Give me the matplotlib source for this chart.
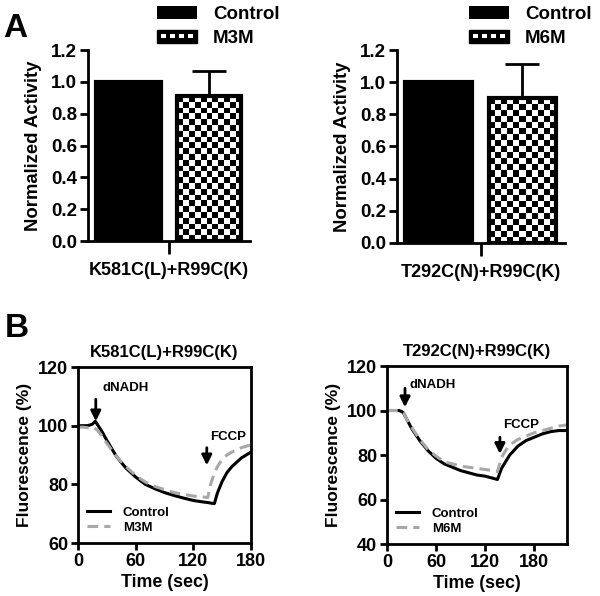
import numpy as np
import matplotlib
matplotlib.use("Agg")
import matplotlib.pyplot as plt
from matplotlib.patches import Rectangle
from matplotlib.legend_handler import HandlerBase

plt.rcParams["font.family"] = ["Liberation Sans", "DejaVu Sans"]
plt.rcParams["font.weight"] = "bold"
plt.rcParams["axes.labelweight"] = "bold"

# ---------------- 数据 ----------------
# Panel A: normalized activity
bar_groups = ["Control", "M3M", "M6M"]
left_label = "K581C(L)+R99C(K)"
right_label = "T292C(N)+R99C(K)"
left_means = [1.0, 0.91]
left_err = [0.0, 0.16]
right_means = [1.0, 0.90]
right_err = [0.0, 0.21]

# Panel B: fluorescence traces
t_left = [0, 5, 10, 15, 18, 20, 25, 30, 40, 50, 60, 70, 80, 90, 100, 110,
          120, 130, 135, 140, 142, 145, 150, 155, 160, 170, 180]
ctrl_left = [100, 100, 100, 100.5, 101.5, 100.5, 98, 95, 89.5, 85.5, 82.5, 80,
             78.5, 77.2, 76.2, 75.3, 74.5, 74, 73.8, 73.5, 73.5, 77, 81, 84,
             86, 89, 91]
t_left_m = [0, 5, 10, 15, 18, 20, 25, 30, 40, 50, 60, 70, 80, 90, 100, 110,
            120, 130, 135, 138, 142, 145, 150, 155, 160, 170, 180]
m3m_left = [99.5, 99.5, 99.3, 99.5, 99, 98.5, 96.5, 94, 89.5, 86, 83, 80.8,
            79.3, 78.2, 77.2, 76.6, 76, 75.7, 75.5, 80, 84, 86, 88.5, 90, 91,
            92.5, 93.5]

t_right = [0, 5, 10, 15, 18, 20, 25, 30, 40, 50, 60, 70, 80, 90, 100, 110,
           120, 130, 135, 140, 145, 150, 160, 170, 180, 190, 200, 210, 220]
ctrl_right = [100, 100, 100, 100, 99.5, 99, 95.5, 92, 86.5, 82, 78.5, 76,
              74.5, 73, 72, 71, 70.5, 69.5, 69, 74, 77, 80, 84, 86.5, 88,
              89.5, 90.5, 91, 91]
m6m_right = [100, 100, 100, 100, 99.5, 99, 95.5, 92.5, 87, 82.5, 79.5, 77,
             76, 75, 74.5, 74, 73.5, 73, 72.5, 79, 82, 84.5, 87, 88.5, 90,
             91, 92, 93, 93.5]


class CheckerHandler(HandlerBase):
    def create_artists(self, legend, orig_handle, xdescent, ydescent,
                       width, height, fontsize, trans):
        arts = [Rectangle((-xdescent, -ydescent), width, height,
                          facecolor="black", edgecolor="black", transform=trans)]
        n = 4
        cw = width / (2 * n + 1)
        for i in range(n):
            arts.append(Rectangle((-xdescent + cw * (2 * i + 1), -ydescent + height * 0.35),
                                  cw, height * 0.3, facecolor="white",
                                  edgecolor="none", transform=trans))
        return arts


def checker_fill(ax, bar, n_cols=11):
    x0, y0 = bar.get_x(), bar.get_y()
    w, h = bar.get_width(), bar.get_height()
    p0 = ax.transData.transform((x0, y0))
    p1 = ax.transData.transform((x0 + w, y0 + h))
    cell = (p1[0] - p0[0]) / n_cols
    n_rows = max(1, int(round((p1[1] - p0[1]) / cell)))
    img = (np.indices((n_rows, n_cols)).sum(axis=0) % 2).astype(float)
    im = ax.imshow(img, cmap="gray", interpolation="nearest", aspect="auto",
                   extent=(x0, x0 + w, y0, y0 + h), zorder=2, vmin=0, vmax=1)
    im.set_clip_path(bar)


def bar_panel(ax, means, err, label, group):
    ax.set_xlim(-0.5, 1.51)
    ax.set_ylim(0, 1.2)
    bars = ax.bar([0, 1], means, width=0.8, color=["black", "white"],
                  edgecolor="black", linewidth=3, zorder=3)
    bars[1].set_facecolor("none")
    checker_fill(ax, bars[1])
    ax.errorbar([1], [means[1]], yerr=[[0], [err[1]]], fmt="none",
                ecolor="black", elinewidth=2, capsize=12, capthick=2, zorder=1)
    for s in ["top", "right"]:
        ax.spines[s].set_visible(False)
    for s in ["left", "bottom"]:
        ax.spines[s].set_linewidth(2)
    ax.set_yticks(np.arange(0, 1.21, 0.2))
    ax.set_yticklabels([f"{v:.1f}" for v in np.arange(0, 1.21, 0.2)])
    ax.set_xticks([0.5])
    ax.set_xticklabels([label], fontsize=13)
    ax.tick_params(axis="y", width=2, length=6, labelsize=13.5, pad=2)
    ax.tick_params(axis="x", width=2, length=9, pad=6)
    ax.set_ylabel("Normalized Activity", fontsize=13.3, labelpad=6)
    h1 = Rectangle((0, 0), 1, 1, facecolor="black")
    h2 = Rectangle((0, 0), 1, 1, facecolor="white")
    return bars, [h1, h2], ["Control", group]


def trace_panel(ax, tc, yc, tm, ym, group, title, ylim, yticks, xmax, ann):
    ax.plot(tc, yc, color="black", lw=2.2, label="Control")
    ax.plot(tm, ym, color="#a8a8a8", lw=2.2, ls=(0, (3.5, 2)), label=group)
    ax.set_xlim(0, xmax)
    ax.set_ylim(*ylim)
    ax.set_xticks([0, 60, 120, 180])
    ax.set_yticks(yticks)
    for s in ax.spines.values():
        s.set_linewidth(2)
    ax.tick_params(axis="both", width=2, length=5, labelsize=13, pad=2)
    ax.set_xlabel("Time (sec)", fontsize=12.8, labelpad=3)
    ax.set_ylabel("Fluorescence (%)", fontsize=12.5, labelpad=4)
    ax.set_title(title, fontsize=12, fontweight="bold", pad=7)
    for txt, xt, yt, xa, ya0, ya1 in ann:
        ax.annotate("", xy=(xa, ya1), xytext=(xa, ya0),
                    arrowprops=dict(arrowstyle="-|>", color="black", lw=2,
                                    mutation_scale=15, shrinkA=0, shrinkB=0))
        ax.text(xt, yt, txt, fontsize=9.5, fontweight="bold", ha="left",
                va="center")
    ax.legend(loc="lower left", frameon=False, fontsize=9.5, handlelength=1.7,
              borderaxespad=0.3, labelspacing=0.2, handletextpad=1.0)


fig = plt.figure(figsize=(6, 5.96), dpi=100)

axA1 = fig.add_axes([0.1467, 0.5956, 0.27, 0.3205])
axA2 = fig.add_axes([0.6617, 0.5923, 0.28, 0.3238])
_, hA1, lA1 = bar_panel(axA1, left_means, left_err, left_label, bar_groups[1])
_, hA2, lA2 = bar_panel(axA2, right_means, right_err, right_label, bar_groups[2])

for ax, h, l, x0 in [(axA1, hA1, lA1, 157), (axA2, hA2, lA2, 469)]:
    fig.legend(h, l, loc="upper left", bbox_to_anchor=(x0 / 600, 1 - 6 / 596),
               frameon=False, fontsize=13.5, handlelength=2.15, handleheight=0.7,
               labelspacing=0.35, handletextpad=0.85, borderpad=0, borderaxespad=0,
               handler_map={h[1]: CheckerHandler()})

axB1 = fig.add_axes([0.13, 0.0889, 0.2883, 0.2953])
axB2 = fig.add_axes([0.645, 0.0872, 0.30, 0.2987])
trace_panel(axB1, t_left, ctrl_left, t_left_m, m3m_left, "M3M", left_label,
            (60, 120), [60, 80, 100, 120], 180,
            [("dNADH", 25, 113, 18.5, 109, 101.5),
             ("FCCP", 137, 96, 134, 92.5, 86.5)])
trace_panel(axB2, t_right, ctrl_right, t_right, m6m_right, "M6M", right_label,
            (40, 120), [40, 60, 80, 100, 120], 220,
            [("dNADH", 28, 111.5, 22, 110, 101.5),
             ("FCCP", 142, 93.5, 138, 88, 80.5)])

fig.text(0.005, 0.978, "A", fontsize=24, fontweight="bold", va="top")
fig.text(0.008, 0.475, "B", fontsize=24, fontweight="bold", va="top")

fig.savefig("out.png", dpi=100)
